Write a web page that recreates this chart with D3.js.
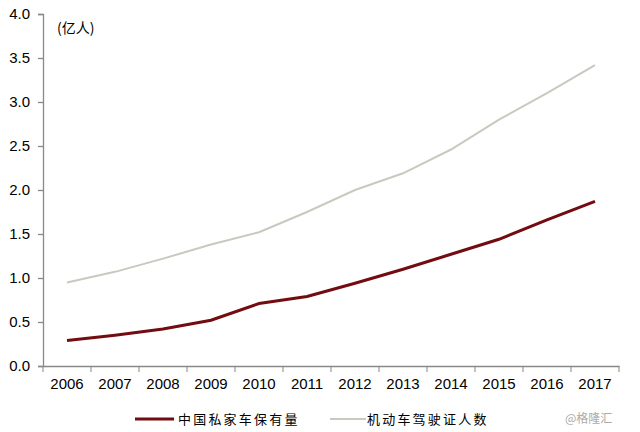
<!DOCTYPE html>
<html><head><meta charset="utf-8">
<script src="https://cdn.jsdelivr.net/npm/d3@7"></script>
<style>body{margin:0;background:#fff}</style>
</head><body><svg id="c" width="640" height="432"></svg>
<script>
const years = ["2006","2007","2008","2009","2010","2011","2012","2013","2014","2015","2016","2017"];
const privateCars = [0.29,0.35,0.42,0.52,0.71,0.79,0.94,1.10,1.27,1.44,1.66,1.87];
const licenses = [0.95,1.07,1.22,1.38,1.52,1.75,2.00,2.19,2.46,2.80,3.10,3.42];
const yTicks = [0,0.5,1.0,1.5,2.0,2.5,3.0,3.5,4.0];
const seriesNames = ["中国私家车保有量","机动车驾驶证人数"];
const unitLabel = "(亿人)";
const watermark = "@格隆汇";

const svg = d3.select("#c");
const L=43, R=619, T=14, B=366;
const x = d3.scaleBand().domain(years).range([L,R]);
const y = d3.scaleLinear().domain([0,4]).range([B,T]);
const font = "'Liberation Sans', Arial, sans-serif";

const ya = svg.append("g").attr("transform",`translate(${L},0)`)
  .call(d3.axisLeft(y).tickValues(yTicks).tickFormat(d3.format(".1f")).tickSizeOuter(0).tickSize(5).tickPadding(8));
const xa = svg.append("g").attr("transform",`translate(0,${B})`)
  .call(d3.axisBottom(x).tickSize(0).tickPadding(12));
// category boundary ticks
svg.append("g").selectAll("line").data(years.concat(["end"])).join("line")
  .attr("x1",(d,i)=>L+i*x.step()).attr("x2",(d,i)=>L+i*x.step())
  .attr("y1",B).attr("y2",B+6).attr("stroke","#888").attr("stroke-width",1);
[ya,xa].forEach(g=>{
  g.selectAll("path,line").attr("stroke","#888").attr("stroke-width",1.3);
  g.selectAll("text").attr("font-family",font).attr("font-size",15).attr("fill","#000");
});

const line = d3.line().x((d,i)=>x(years[i])+x.bandwidth()/2).y(d=>y(d));
svg.append("path").datum(licenses).attr("d",line).attr("fill","none")
  .attr("stroke","#c9c9c0").attr("stroke-width",2);
svg.append("path").datum(privateCars).attr("d",line).attr("fill","none")
  .attr("stroke","#720c10").attr("stroke-width",3);

svg.append("text").attr("x",57).attr("y",33).text(unitLabel)
  .attr("font-family","'Noto Sans CJK SC', sans-serif").attr("font-size",14).attr("fill","#000");

// legend
const leg = [{c:"#720c10",w:3,x1:135,x2:174,tx:178},{c:"#c9c9c0",w:2,x1:330,x2:366,tx:367}];
leg.forEach((l,i)=>{
  svg.append("line").attr("x1",l.x1).attr("x2",l.x2).attr("y1",419).attr("y2",419)
    .attr("stroke",l.c).attr("stroke-width",l.w);
  svg.append("text").attr("x",l.tx).attr("y",424).text(seriesNames[i])
    .attr("font-family","'Noto Sans CJK SC', sans-serif").attr("font-size",13)
    .attr("letter-spacing",2.2).attr("fill","#000");
});
svg.append("text").attr("x",565).attr("y",423).text(watermark)
  .attr("font-family","'Noto Sans CJK SC', sans-serif").attr("font-size",12).attr("fill","#aaa");
</script></body></html>
